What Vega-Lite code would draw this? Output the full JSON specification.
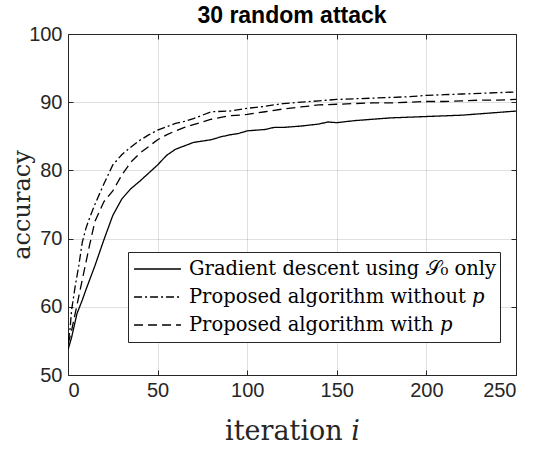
{
  "$schema": "https://vega.github.io/schema/vega-lite/v6.json",
  "width": 448,
  "height": 341,
  "autosize": {"type": "none"},
  "padding": {"left": 68, "top": 34, "right": 21, "bottom": 80},
  "background": "white",
  "title": {
    "text": "30 random attack",
    "font": "Liberation Sans",
    "fontSize": 23,
    "fontWeight": "bold",
    "color": "black",
    "anchor": "middle",
    "offset": -4
  },
  "config": {
    "view": {"stroke": "#262626", "strokeWidth": 1},
    "axis": {
      "domain": false,
      "grid": true,
      "gridColor": "#262626",
      "gridOpacity": 0.15,
      "gridWidth": 1,
      "tickColor": "#262626",
      "tickSize": -5,
      "labelFont": "Liberation Sans",
      "labelFontSize": 20,
      "labelColor": "#262626",
      "titleFont": "DejaVu Serif",
      "titleFontWeight": "normal",
      "titleColor": "#262626"
    }
  },
  "datasets": {
    "curves": [
      {"iter": 0, "acc": 53.7, "method": "s0"},
      {"iter": 2, "acc": 55.5, "method": "s0"},
      {"iter": 5, "acc": 59.0, "method": "s0"},
      {"iter": 8, "acc": 61.0, "method": "s0"},
      {"iter": 10, "acc": 62.5, "method": "s0"},
      {"iter": 15, "acc": 66.0, "method": "s0"},
      {"iter": 20, "acc": 69.8, "method": "s0"},
      {"iter": 25, "acc": 73.4, "method": "s0"},
      {"iter": 30, "acc": 75.8, "method": "s0"},
      {"iter": 35, "acc": 77.3, "method": "s0"},
      {"iter": 40, "acc": 78.4, "method": "s0"},
      {"iter": 45, "acc": 79.6, "method": "s0"},
      {"iter": 50, "acc": 80.8, "method": "s0"},
      {"iter": 55, "acc": 82.2, "method": "s0"},
      {"iter": 60, "acc": 83.1, "method": "s0"},
      {"iter": 65, "acc": 83.6, "method": "s0"},
      {"iter": 70, "acc": 84.1, "method": "s0"},
      {"iter": 75, "acc": 84.3, "method": "s0"},
      {"iter": 80, "acc": 84.5, "method": "s0"},
      {"iter": 85, "acc": 84.9, "method": "s0"},
      {"iter": 90, "acc": 85.2, "method": "s0"},
      {"iter": 95, "acc": 85.4, "method": "s0"},
      {"iter": 100, "acc": 85.8, "method": "s0"},
      {"iter": 105, "acc": 85.9, "method": "s0"},
      {"iter": 110, "acc": 86.0, "method": "s0"},
      {"iter": 115, "acc": 86.3, "method": "s0"},
      {"iter": 120, "acc": 86.3, "method": "s0"},
      {"iter": 130, "acc": 86.5, "method": "s0"},
      {"iter": 140, "acc": 86.8, "method": "s0"},
      {"iter": 145, "acc": 87.1, "method": "s0"},
      {"iter": 150, "acc": 87.0, "method": "s0"},
      {"iter": 160, "acc": 87.3, "method": "s0"},
      {"iter": 170, "acc": 87.5, "method": "s0"},
      {"iter": 180, "acc": 87.7, "method": "s0"},
      {"iter": 190, "acc": 87.8, "method": "s0"},
      {"iter": 200, "acc": 87.9, "method": "s0"},
      {"iter": 210, "acc": 88.0, "method": "s0"},
      {"iter": 220, "acc": 88.1, "method": "s0"},
      {"iter": 230, "acc": 88.3, "method": "s0"},
      {"iter": 240, "acc": 88.5, "method": "s0"},
      {"iter": 250, "acc": 88.7, "method": "s0"},

      {"iter": 0, "acc": 55.0, "method": "nop"},
      {"iter": 1, "acc": 56.3, "method": "nop"},
      {"iter": 2, "acc": 59.5, "method": "nop"},
      {"iter": 4, "acc": 63.0, "method": "nop"},
      {"iter": 6, "acc": 66.0, "method": "nop"},
      {"iter": 8, "acc": 69.5, "method": "nop"},
      {"iter": 10, "acc": 71.5, "method": "nop"},
      {"iter": 12, "acc": 73.0, "method": "nop"},
      {"iter": 15, "acc": 75.0, "method": "nop"},
      {"iter": 20, "acc": 78.0, "method": "nop"},
      {"iter": 25, "acc": 80.8, "method": "nop"},
      {"iter": 30, "acc": 82.3, "method": "nop"},
      {"iter": 35, "acc": 83.4, "method": "nop"},
      {"iter": 40, "acc": 84.4, "method": "nop"},
      {"iter": 45, "acc": 85.2, "method": "nop"},
      {"iter": 50, "acc": 85.9, "method": "nop"},
      {"iter": 55, "acc": 86.4, "method": "nop"},
      {"iter": 60, "acc": 86.9, "method": "nop"},
      {"iter": 65, "acc": 87.2, "method": "nop"},
      {"iter": 70, "acc": 87.6, "method": "nop"},
      {"iter": 75, "acc": 88.1, "method": "nop"},
      {"iter": 80, "acc": 88.6, "method": "nop"},
      {"iter": 90, "acc": 88.7, "method": "nop"},
      {"iter": 100, "acc": 89.1, "method": "nop"},
      {"iter": 110, "acc": 89.4, "method": "nop"},
      {"iter": 120, "acc": 89.8, "method": "nop"},
      {"iter": 130, "acc": 90.0, "method": "nop"},
      {"iter": 140, "acc": 90.2, "method": "nop"},
      {"iter": 150, "acc": 90.4, "method": "nop"},
      {"iter": 160, "acc": 90.5, "method": "nop"},
      {"iter": 170, "acc": 90.6, "method": "nop"},
      {"iter": 180, "acc": 90.7, "method": "nop"},
      {"iter": 190, "acc": 90.8, "method": "nop"},
      {"iter": 200, "acc": 91.0, "method": "nop"},
      {"iter": 210, "acc": 91.1, "method": "nop"},
      {"iter": 220, "acc": 91.2, "method": "nop"},
      {"iter": 230, "acc": 91.3, "method": "nop"},
      {"iter": 240, "acc": 91.4, "method": "nop"},
      {"iter": 250, "acc": 91.5, "method": "nop"},

      {"iter": 0, "acc": 54.5, "method": "p"},
      {"iter": 2, "acc": 56.5, "method": "p"},
      {"iter": 4, "acc": 59.0, "method": "p"},
      {"iter": 6, "acc": 61.5, "method": "p"},
      {"iter": 8, "acc": 64.0, "method": "p"},
      {"iter": 10, "acc": 66.5, "method": "p"},
      {"iter": 12, "acc": 69.0, "method": "p"},
      {"iter": 15, "acc": 72.5, "method": "p"},
      {"iter": 20, "acc": 75.4, "method": "p"},
      {"iter": 25, "acc": 77.0, "method": "p"},
      {"iter": 30, "acc": 79.3, "method": "p"},
      {"iter": 35, "acc": 81.2, "method": "p"},
      {"iter": 40, "acc": 82.5, "method": "p"},
      {"iter": 45, "acc": 83.5, "method": "p"},
      {"iter": 50, "acc": 84.5, "method": "p"},
      {"iter": 55, "acc": 85.2, "method": "p"},
      {"iter": 60, "acc": 85.8, "method": "p"},
      {"iter": 65, "acc": 86.3, "method": "p"},
      {"iter": 70, "acc": 86.7, "method": "p"},
      {"iter": 75, "acc": 87.1, "method": "p"},
      {"iter": 80, "acc": 87.5, "method": "p"},
      {"iter": 90, "acc": 88.0, "method": "p"},
      {"iter": 100, "acc": 88.2, "method": "p"},
      {"iter": 110, "acc": 88.6, "method": "p"},
      {"iter": 120, "acc": 89.0, "method": "p"},
      {"iter": 130, "acc": 89.3, "method": "p"},
      {"iter": 140, "acc": 89.6, "method": "p"},
      {"iter": 150, "acc": 89.7, "method": "p"},
      {"iter": 160, "acc": 89.8, "method": "p"},
      {"iter": 170, "acc": 89.9, "method": "p"},
      {"iter": 180, "acc": 89.9, "method": "p"},
      {"iter": 190, "acc": 90.0, "method": "p"},
      {"iter": 200, "acc": 90.1, "method": "p"},
      {"iter": 210, "acc": 90.1, "method": "p"},
      {"iter": 220, "acc": 90.2, "method": "p"},
      {"iter": 230, "acc": 90.3, "method": "p"},
      {"iter": 240, "acc": 90.3, "method": "p"},
      {"iter": 250, "acc": 90.4, "method": "p"}
    ]
  },
  "data": {"name": "curves"},
  "resolve": {"axis": {"x": "independent", "y": "independent"}},
  "layer": [
    {
      "mark": {"type": "line", "stroke": "black", "strokeWidth": 1.3, "clip": true},
      "encoding": {
        "x": {
          "field": "iter",
          "type": "quantitative",
          "scale": {"domain": [0, 250], "nice": false},
          "axis": {
            "values": [0, 50, 100, 150, 200, 250],
            "title": "iteration 𝑖",
            "titleFontSize": 27,
            "titlePadding": 18,
            "labelPadding": 10
          }
        },
        "y": {
          "field": "acc",
          "type": "quantitative",
          "scale": {"domain": [50, 100], "nice": false, "zero": false},
          "axis": {
            "values": [50, 60, 70, 80, 90, 100],
            "title": "accuracy",
            "titleFontSize": 24,
            "titlePadding": -6,
            "labelPadding": 11
          }
        },
        "strokeDash": {
          "field": "method",
          "type": "nominal",
          "scale": {
            "domain": ["s0", "nop", "p"],
            "range": [[1, 0], [8, 3, 2, 3], [9, 5]]
          },
          "legend": {
            "title": null,
            "orient": "none",
            "legendX": 60,
            "legendY": 218,
            "labelExpr": "datum.value === 's0' ? 'Gradient descent using 𝒮₀ only' : datum.value === 'nop' ? 'Proposed algorithm without 𝑝' : 'Proposed algorithm with 𝑝'",
            "symbolType": "stroke",
            "symbolSize": 2200,
            "symbolOffset": 2,
            "symbolStrokeColor": "black",
            "symbolStrokeWidth": 1.3,
            "labelFont": "DejaVu Serif",
            "labelFontSize": 19.5,
            "labelColor": "black",
            "labelLimit": 400,
            "labelOffset": 7,
            "clipHeight": 28,
            "strokeColor": "#262626",
            "fillColor": "white",
            "padding": 3,
            "rowPadding": 0
          }
        }
      }
    },
    {
      "mark": {"type": "line", "strokeOpacity": 0},
      "encoding": {
        "x": {
          "field": "iter",
          "type": "quantitative",
          "axis": {
            "orient": "top",
            "values": [0, 50, 100, 150, 200, 250],
            "labels": false,
            "grid": false,
            "title": null
          }
        },
        "y": {
          "field": "acc",
          "type": "quantitative",
          "axis": {
            "orient": "right",
            "values": [50, 60, 70, 80, 90, 100],
            "labels": false,
            "grid": false,
            "title": null
          }
        },
        "detail": {"field": "method"}
      }
    }
  ]
}
